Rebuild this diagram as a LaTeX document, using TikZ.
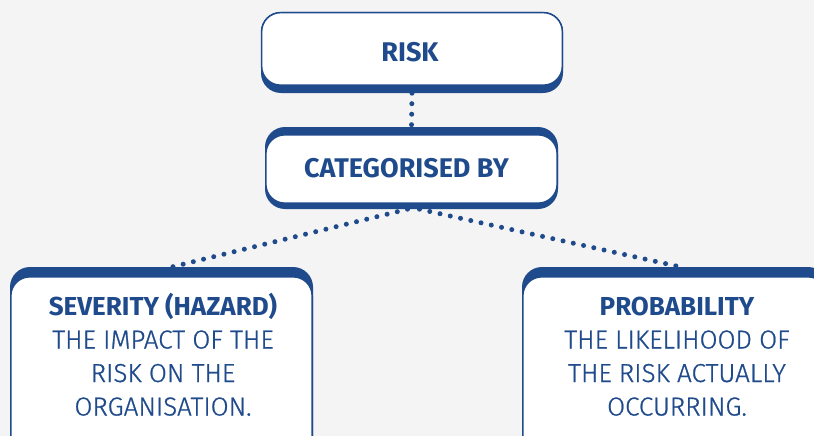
\documentclass[tikz,border=0pt]{standalone}
\usepackage{fontspec}
\setmainfont{Fira Sans}
\newfontfamily\lightfont[FakeBold=0.8]{Fira Sans Light}
\definecolor{dkblue}{HTML}{1F4A8B}
\definecolor{bggray}{HTML}{F4F4F4}
\tikzset{
  boxbase/.style={rectangle, rounded corners=20pt, fill=dkblue, inner sep=0pt},
  whitebox/.style={draw=dkblue, line width=1.6pt, fill=white, rounded corners=19pt},
  headtext/.style={text=dkblue, font=\fontsize{27}{32}\selectfont\bfseries, inner sep=0pt, anchor=base},
  bodytext/.style={text=dkblue, inner sep=0pt, anchor=base},
  dotline/.style={dkblue, line width=5pt, line cap=round, dash pattern=on 0pt off 10.5pt}
}
\begin{document}
\begin{tikzpicture}[x=1pt,y=1pt]
\fill[bggray] (0,0) rectangle (814,-436);
\useasboundingbox (0,0) rectangle (814,-436);
% box bases (dark)
\node[boxbase, minimum width=302pt, minimum height=81pt] (risk) at (412,-52.5) {};
\node[boxbase, minimum width=293pt, minimum height=82pt] (cat) at (411.5,-168) {};
\node[boxbase, minimum width=303pt, minimum height=200pt] (sev) at (161.5,-367) {};
\node[boxbase, minimum width=306pt, minimum height=200pt] (prob) at (675,-367) {};
% white faces
\draw[whitebox] ([xshift=0.8pt,yshift=-0.8pt]risk.north west) rectangle ([xshift=-0.8pt,yshift=8pt]risk.south east);
\draw[whitebox] ([xshift=1pt,yshift=-8pt]cat.north west) rectangle ([xshift=-1pt,yshift=6pt]cat.south east);
\draw[whitebox] ([xshift=1pt,yshift=-10pt]sev.north west) rectangle ([xshift=-1pt,yshift=1pt]sev.south east);
\draw[whitebox] ([xshift=1pt,yshift=-10pt]prob.north west) rectangle ([xshift=-1pt,yshift=1pt]prob.south east);
% texts
\node[headtext] (risktxt) at (410,-62) {RISK};
\node[headtext] (cattxt) at (406.5,-177) {CATEGORISED BY};
\node[bodytext] (sevtxt) at (163,-315) {\fontsize{26}{33.5}\selectfont\setlength\tabcolsep{0pt}\begin{tabular}[t]{c}\bfseries SEVERITY (HAZARD)\\ \lightfont THE IMPACT OF THE\\ \lightfont RISK ON THE\\ \lightfont ORGANISATION.\end{tabular}};
\node[bodytext] (probtxt) at (677,-315) {\fontsize{26}{33.5}\selectfont\setlength\tabcolsep{0pt}\begin{tabular}[t]{c}\bfseries PROBABILITY\\ \lightfont THE LIKELIHOOD OF\\ \lightfont THE RISK ACTUALLY\\ \lightfont OCCURRING.\end{tabular}};
% connectors
\draw[dotline] (risk.south) -- (cat.north);
\draw[dotline] ([xshift=-4pt]cat.south) -- ([xshift=11pt]sev.north);
\draw[dotline] ([xshift=8pt]cat.south) -- ([xshift=5pt]prob.north);
\end{tikzpicture}
\end{document}
